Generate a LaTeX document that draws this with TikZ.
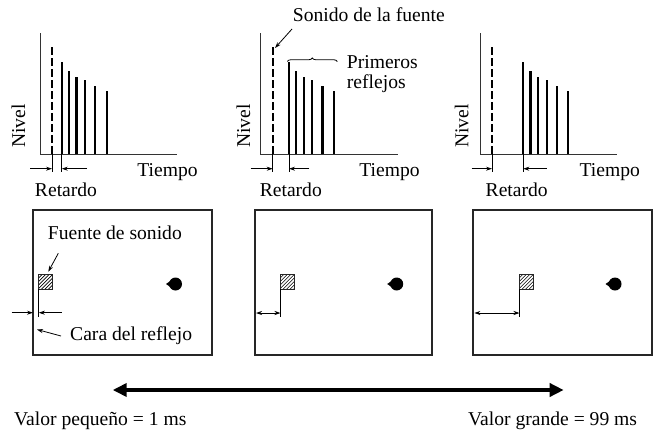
\documentclass[tikz,border=0pt]{standalone}
\usepackage{fontspec}
\setmainfont{Liberation Serif}
\usetikzlibrary{arrows.meta,decorations.pathreplacing}
\begin{document}
\begin{tikzpicture}[x=1pt,y=-1pt,
  lbl/.style={inner sep=0pt,font=\fontsize{19.6}{23}\selectfont},
  axisline/.style={line width=0.9pt,draw=black!80},
  pulse/.style={line width=2.1pt},
  dpulse/.style={line width=2.1pt,dash pattern=on 7.5pt off 3.5pt},
  tickline/.style={line width=0.8pt},
  dimarrow/.style={line width=0.8pt,-{Stealth[length=6pt,width=4pt]}},
  dimboth/.style={line width=0.8pt,{Stealth[length=6pt,width=4pt]}-{Stealth[length=6pt,width=4pt]}},
  ann/.style={line width=0.8pt,-{Stealth[length=6pt,width=4pt]}},
  room/.style={line width=2pt,draw=black!85},
  hatchline/.style={line width=0.6pt},
  sqborder/.style={line width=0.9pt,draw=black!85},
  bigarrow/.style={line width=4pt,{Triangle[length=14pt,width=13pt]}-{Triangle[length=14pt,width=13pt]}}
]
\useasboundingbox (0,0) rectangle (653,434);

% ---------- level / time graphs ----------
\foreach \ax/\fs/\nv/\la/\ra/\ti/\re [count=\k] in
  {40/21.7/-21.7/-10/25.3/127.5/26,
   260.7/28.3/-17.4/-10/20.3/128.8/30.1,
   480/43.3/-18.3/-8.3/23.4/129.7/36.7}{
  \begin{scope}[shift={(\ax,0)}]
    \draw[axisline] (0,33) -- (0,154) -- (137,154);
    \draw[dpulse] (12,47) -- (12,154);
    \draw[tickline] (12,154) -- (12,172);
    \foreach \dx/\tp in {0/62, 7.2/71, 14.8/77, 23.3/80, 33.5/86, 45/90.7}
      \draw[pulse] (\fs+\dx,154) -- (\fs+\dx,\tp);
    \draw[tickline] (\fs,154) -- (\fs,172);
    \coordinate (dl\k) at (\la,168.7);
    \coordinate (ds\k) at (12,168.7);
    \coordinate (dr\k) at (\fs+\ra,168.7);
    \coordinate (df\k) at (\fs,168.7);
    \draw[dimarrow] (dl\k) -- (ds\k);
    \draw[dimarrow] (dr\k) -- (df\k);
    \node[lbl,rotate=90] (nivel\k) at (\nv,126) {Nivel};
    \node[lbl,anchor=base] (tiempo\k) at (\ti,176) {Tiempo};
    \node[lbl,anchor=base] (retardo\k) at (\re,196.5) {Retardo};
  \end{scope}
}

% annotations of the middle graph
\node[lbl,anchor=base west] (sonido) at (292.7,21.7) {Sonido de la fuente};
\coordinate (sonidotip) at (275,48);
\draw[ann] (292,29) -- (sonidotip);
\draw[line width=0.8pt,decorate,decoration={brace,amplitude=3.5pt}] (287.3,61.5) -- (337.3,61.5);
\node[lbl,anchor=base west] (prim) at (346.7,68) {Primeros};
\node[lbl,anchor=base west] (refl) at (346.7,88) {reflejos};

% ---------- rooms ----------
\foreach \bl/\br/\sq/\dt [count=\k] in
  {33/212/38.3/175.5, 255/432.3/280/396.7, 473.3/652/519/615}{
  \draw[room] (\bl,210) rectangle (\br,355);
  \begin{scope}
    \clip (\sq,274) rectangle ++(14.4,15.3);
    \foreach \t in {-18,-14.5,...,16}
      \draw[hatchline] (\sq+\t,289.3) -- ++(17,-17);
  \end{scope}
  \draw[sqborder] (\sq,274) rectangle ++(14.4,15.3);
  \coordinate (src\k) at (\sq+0.5,289.3);
  \draw[tickline] (src\k) -- (\sq+0.5,317);
  \fill (\dt,284) circle (6.5);
  \fill (\dt-9.5,284) -- (\dt-3,279.5) -- (\dt-3,288.5) -- cycle;
}
% dimension arrows
\draw[dimarrow] (11.7,312.7) -- (33,312.7);
\draw[dimarrow] (61.7,312.7) -- (38.8,312.7);
\draw[dimboth] (256,313) -- (280.5,313);
\draw[dimboth] (474.3,313) -- (519.5,313);

% annotations of the first room
\node[lbl,anchor=base west] (fuente) at (47.7,239.5) {Fuente de sonido};
\draw[ann] (58.3,253.3) -- (48.3,271.7);
\node[lbl,anchor=base west] (cara) at (70,340) {Cara del reflejo};
\draw[ann] (61,336) -- (37,329.5);

% ---------- value range ----------
\coordinate (small) at (112.7,390);
\coordinate (large) at (563.7,390);
\draw[bigarrow] (small) -- (large);
\node[lbl,anchor=base west] (vp) at (14,425) {Valor pequeño = 1 ms};
\node[lbl,anchor=base east] (vg) at (637.3,425) {Valor grande = 99 ms};
\end{tikzpicture}
\end{document}
